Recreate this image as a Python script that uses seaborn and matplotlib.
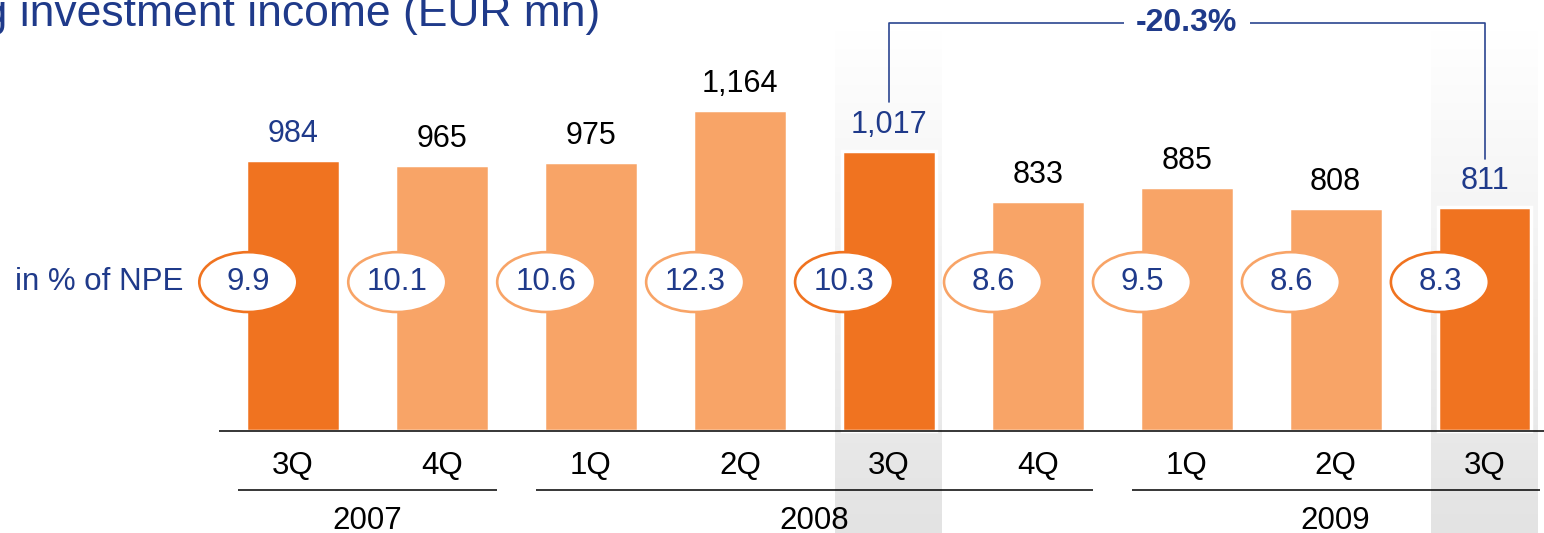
import numpy as np
import pandas as pd
import matplotlib
matplotlib.use("Agg")
import matplotlib.pyplot as plt
from matplotlib.patches import Ellipse
from matplotlib.colors import LinearSegmentedColormap
import seaborn as sns

# ---- data ----
quarters = ["3Q", "4Q", "1Q", "2Q", "3Q", "4Q", "1Q", "2Q", "3Q"]
years = ["2007", "2007", "2008", "2008", "2008", "2008", "2009", "2009", "2009"]
values = [984, 965, 975, 1164, 1017, 833, 885, 808, 811]
npe_pct = [9.9, 10.1, 10.6, 12.3, 10.3, 8.6, 9.5, 8.6, 8.3]
highlight = [True, False, False, False, True, False, False, False, True]
change_label = "-20.3%"
change_from, change_to = 4, 8
title = "Operating investment income (EUR mn)"
row_label = "in % of NPE"

# ---- style ----
DARK = "#F07320"
LIGHT = "#F8A467"
BLUE = "#1F3A8A"
LINE_BLUE = "#2B4590"

sns.set_theme(style="white")
plt.rcParams["font.family"] = ["Liberation Sans", "DejaVu Sans"]

df = pd.DataFrame({
    "period": [f"{q} {y}" for q, y in zip(quarters, years)],
    "value": values,
})
colors = [DARK if h else LIGHT for h in highlight]

fig = plt.figure(figsize=(15.44, 5.33), dpi=100)
ax = fig.add_axes([0, 0, 1, 1])

sns.barplot(data=df, x="period", y="value", hue="period", palette=colors,
            legend=False, width=0.63, edgecolor="white", linewidth=2.5,
            saturation=1, ax=ax, zorder=3)

ax.set_xlim(-1.967, 8.399)
ax.set_ylim(-370, 1563)
ax.axis("off")

# gray gradient columns behind highlighted bars
grad = np.linspace(0, 1, 256).reshape(-1, 1)
gcmap = LinearSegmentedColormap.from_list("g", ["#E3E3E3", "#FFFFFF"])
for i in (change_from, change_to):
    ax.imshow(grad, aspect="auto", cmap=gcmap, origin="lower",
              extent=[i - 0.359, i + 0.359, -370, 1454], zorder=1)

# baseline
ax.plot([-0.497, 8.399], [0, 0], color="black", lw=1.1, zorder=5,
        solid_capstyle="butt")

# value labels
for i, v in enumerate(values):
    ax.text(i, v + 65, f"{v:,}", ha="center", va="baseline", fontsize=22,
            color=BLUE if highlight[i] else "black", zorder=6)

# NPE ellipses
ax.text(-0.737, 540, row_label, ha="right", va="center", fontsize=22.5,
        color=BLUE, zorder=6)
for i, p in enumerate(npe_pct):
    e = Ellipse((i - 0.3, 540), 0.658, 217, facecolor="white",
                edgecolor=colors[i], lw=1.9, zorder=6)
    ax.add_patch(e)
    ax.text(i - 0.3, 540, f"{p:.1f}", ha="center", va="center", fontsize=22.5,
            color=BLUE, zorder=7)

# quarter labels
for i, q in enumerate(quarters):
    ax.text(i, -127, q, ha="center", va="center", fontsize=22.5,
            color="black", zorder=6)

# year groups
uniq = list(dict.fromkeys(years))
for y in uniq:
    idx = [i for i, yy in enumerate(years) if yy == y]
    x0, x1 = idx[0] - 0.37, idx[-1] + 0.37
    ax.plot([x0, x1], [-214, -214], color="black", lw=1.1, zorder=5,
            solid_capstyle="butt")
    ax.text((x0 + x1) / 2, -326, y, ha="center", va="center", fontsize=22.5,
            color="black", zorder=6)

# change bracket
top = 1479
ax.plot([change_from, change_from, change_to, change_to],
        [values[change_from] + 177, top, top, values[change_to] + 177],
        color=LINE_BLUE, lw=1.2, zorder=5)
ax.text((change_from + change_to) / 2, top, change_label, ha="center",
        va="center", fontsize=23, fontweight="bold", color=BLUE, zorder=7,
        bbox=dict(facecolor="white", edgecolor="none", pad=9))

# title (cut off at left edge as in the reference)
fig.text(600 / 1544, 1 - 26 / 533, title, ha="right", va="baseline",
         fontsize=32, color=BLUE)

fig.savefig("out.png", dpi=100)
